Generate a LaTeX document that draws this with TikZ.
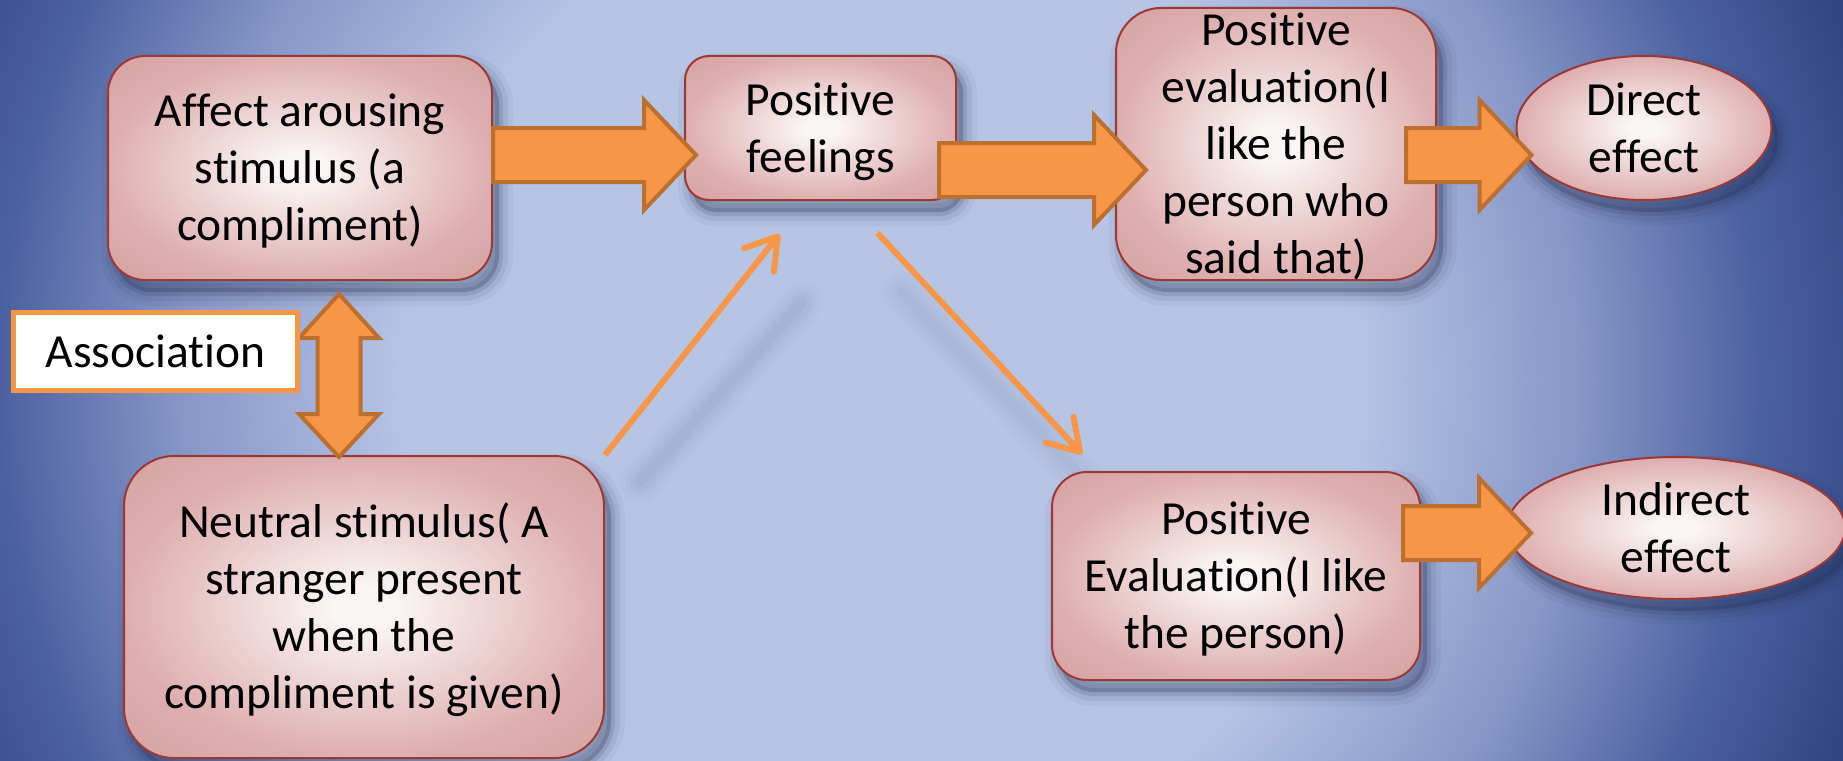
\documentclass[tikz,border=0pt]{standalone}
\usepackage{fontspec}
\setmainfont{Carlito}[Ligatures=NoCommon]
\usetikzlibrary{calc,shapes.geometric,arrows.meta,shadows}

% palette
\definecolor{bgin}{HTML}{B7C5E5}
\definecolor{bgmid}{HTML}{8696C7}
\definecolor{bgdark}{HTML}{4C61A0}
\definecolor{bgout}{HTML}{2C407D}
\definecolor{boxin}{HTML}{FBF6F6}
\definecolor{boxout}{HTML}{DEAEAE}
\definecolor{boxcorner}{HTML}{D6A1A1}
\definecolor{boxline}{HTML}{9A3A38}
\definecolor{arrfill}{HTML}{F79646}
\definecolor{arrline}{HTML}{BC702F}
\definecolor{shadowc}{HTML}{1F2A4A}

% backdrop and box gradients (25bp = half the size of the shaded path)
\pgfdeclareradialshading{bgshade}{\pgfpointorigin}{color(0bp)=(bgin); color(10.7bp)=(bgin); color(15.9bp)=(bgmid); color(20bp)=(bgdark); color(23.9bp)=(bgout); color(50bp)=(bgout)}
\pgfdeclareradialshading{boxshade}{\pgfpointorigin}{color(0bp)=(boxin); color(3bp)=(boxin); color(25bp)=(boxout); color(36bp)=(boxcorner); color(50bp)=(boxcorner)}

% fixed line box: 44pt above the baseline, 13pt below
\newcommand\ls{\rule[-13pt]{0pt}{57pt}}

% horizontal block arrow: from, to, y, start shift, tip shift
\newcommand\hblock[5]{%
  \draw[blockarr] let \p1=#1, \p2=#2, \n1={\x1+(#4)}, \n2={\x2+(#5)} in
    (\n1,{#3+27pt}) -- ({\n2-52pt},{#3+27pt}) -- ({\n2-52pt},{#3+55pt})
    -- (\n2,#3) -- ({\n2-52pt},{#3-55pt}) -- ({\n2-52pt},{#3-27pt})
    -- (\n1,{#3-27pt}) -- cycle;}

\begin{document}
\begin{tikzpicture}[x=1pt,y=1pt,
  txt/.style={font=\fontsize{47.5}{57}\selectfont, text=black, align=center},
  softshadow/.style={
    general shadow={fill=shadowc, draw=shadowc, line width=28pt, opacity=0.05, shadow xshift=7pt, shadow yshift=-12pt},
    general shadow={fill=shadowc, draw=shadowc, line width=18pt, opacity=0.08, shadow xshift=7pt, shadow yshift=-12pt},
    general shadow={fill=shadowc, draw=shadowc, line width=8pt, opacity=0.14, shadow xshift=7pt, shadow yshift=-12pt}},
  pinkfill/.style={shading=boxshade, shade, draw=boxline, line width=2pt},
  rbox/.style={rectangle, rounded corners=#1, softshadow, pinkfill, txt,
    inner xsep=0pt, inner ysep=-20pt},
  oval/.style={ellipse, softshadow, pinkfill, txt, inner xsep=0pt, inner ysep=-30pt},
  blockarr/.style={fill=arrfill, draw=arrline, line width=4pt, line join=miter},
  thinarr/.style={draw=arrfill, line width=6pt,
    -{Straight Barb[length=30pt, width=38pt, round]}},
  linkshadow/.style={draw=shadowc, line cap=round},
  assoc/.style={rectangle, draw=arrfill, line width=5pt, fill=white, txt, inner sep=0pt}
]
\useasboundingbox (0,0) rectangle (1843,-760);

% backdrop
\begin{scope}
  \clip (0,0) rectangle (1843,-760);
  \shade[shading=bgshade] (-220,-1480) rectangle (1980,720);
  % soft shadows cast by the two slanted links
  \foreach \w/\o in {40/0.02, 30/0.025, 20/0.03, 10/0.03}{
    \draw[linkshadow, line width=\w pt, opacity=\o] (640,-482) -- (802,-303);
    \draw[linkshadow, line width=\w pt, opacity=0.7*\o] (902,-292) -- (1095,-490);
  }
\end{scope}

% boxes
\node[rbox=37pt, minimum width=384pt, minimum height=224pt] (A) at (300,-168)
  {\ls Affect arousing\\stimulus (a\\compliment)\ls};
\node[rbox=24pt, minimum width=271pt, minimum height=144pt] (PF) at (820.5,-128)
  {\ls Positive\\feelings\ls};
\node[rbox=45pt, minimum width=320pt, minimum height=272pt] (PE1) at (1276,-144)
  {\ls Positive\\evaluation(I\\like the\\person who\\said that)\ls};
\node[oval, minimum width=255pt, minimum height=144pt] (D) at (1644,-128)
  {\ls Direct\\effect\ls};
\node[rbox=50pt, minimum width=480pt, minimum height=302pt] (N) at (364,-607)
  {\ls Neutral stimulus( A\\stranger present\\when the\\compliment is given)\ls};
\node[rbox=35pt, minimum width=368pt, minimum height=208pt] (PE2) at (1236,-576)
  {\ls Positive\\Evaluation(I like\\the person)\ls};
\node[oval, minimum width=338pt, minimum height=142pt] (I) at (1676,-528)
  {\ls Indirect\\effect\ls};

% slanted links
\draw[thinarr] (N.north east) -- ($(PF.south)+(-41,-33)$);
\draw[thinarr] ($(PF.south)+(57,-32)$) -- ($(PE2.north west)+(31,17)$);

% block arrows
\hblock{(A.east)}{(PF.west)}{-155pt}{0pt}{12pt}
\hblock{(PF.east)}{(PE1.west)}{-170pt}{-18pt}{31pt}
\hblock{(PE1.east)}{(D.west)}{-155pt}{-31pt}{16pt}
\hblock{(PE2.east)}{(I.west)}{-533pt}{-18pt}{25pt}

% two-headed association arrow
\draw[blockarr] let \p1=(A.south), \p2=(N.north) in
  (339pt,{\y1-13pt}) -- (379pt,{\y1-57pt}) -- (360.5pt,{\y1-57pt})
  -- (360.5pt,{\y2+41pt}) -- (379pt,{\y2+41pt}) -- (339pt,{\y2-2pt})
  -- (299pt,{\y2+41pt}) -- (317.5pt,{\y2+41pt}) -- (317.5pt,{\y1-57pt})
  -- (299pt,{\y1-57pt}) -- cycle;

\node[assoc, minimum width=284pt, minimum height=78pt] (As) at (155.5,-351.5) {\ls Association\ls};
\end{tikzpicture}
\end{document}
